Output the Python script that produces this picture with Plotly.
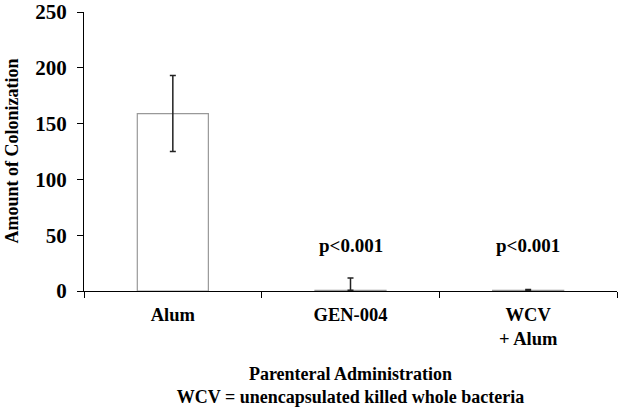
import plotly.graph_objects as go

categories = ["Alum", "GEN-004", "WCV<br>+ Alum"]
values = [159, 0.6, 0.6]
err_plus = [34, 11, 0.8]
err_minus = [34, 0, 0]
annotations_text = ["", "p<0.001", "p<0.001"]
annot_y = 41

FONT = "Liberation Serif"

fig = go.Figure()
fig.add_trace(go.Bar(
    x=categories, y=values, width=0.4,
    marker=dict(color="white", line=dict(color="#999999", width=1.2)),
    error_y=dict(type="data", array=err_plus, arrayminus=err_minus, symmetric=False,
                 color="#222222", thickness=1.5, width=3),
))
for c, t in zip(categories, annotations_text):
    if t:
        fig.add_annotation(x=c, y=annot_y, text=t, showarrow=False,
                           font=dict(family=FONT, size=19, color="black", weight="bold"),
                           yanchor="middle")

fig.add_annotation(xref="paper", yref="paper", x=0, y=0.5, xshift=-73,
                   text="Amount of Colonization", textangle=-90, showarrow=False,
                   font=dict(family=FONT, size=18, color="black", weight="bold"),
                   xanchor="center", yanchor="middle")

fig.update_layout(
    width=618, height=409,
    margin=dict(l=84, r=1, t=12, b=118),
    paper_bgcolor="white", plot_bgcolor="white",
    showlegend=False,
    font=dict(family=FONT, color="black"),
    xaxis=dict(
        showline=True, linecolor="black", linewidth=1.3,
        ticks="outside", tickson="boundaries", ticklen=6, tickcolor="black",
        tickfont=dict(family=FONT, size=18.5, color="black", weight="bold"),
        ticklabelstandoff=7,
        title=dict(text="Parenteral Administration<br>WCV = unencapsulated killed whole bacteria",
                   font=dict(family=FONT, size=18, color="black", weight="bold"), standoff=18),
    ),
    yaxis=dict(
        range=[0, 250], tickvals=[0, 50, 100, 150, 200, 250],
        showline=True, linecolor="black", linewidth=1.3,
        ticks="outside", ticklen=6, tickcolor="black",
        showgrid=False, zeroline=False,
        ticklabelstandoff=6,
        tickfont=dict(family=FONT, size=21, color="black", weight="bold"),
    ),
)

fig.write_html("out.html")
